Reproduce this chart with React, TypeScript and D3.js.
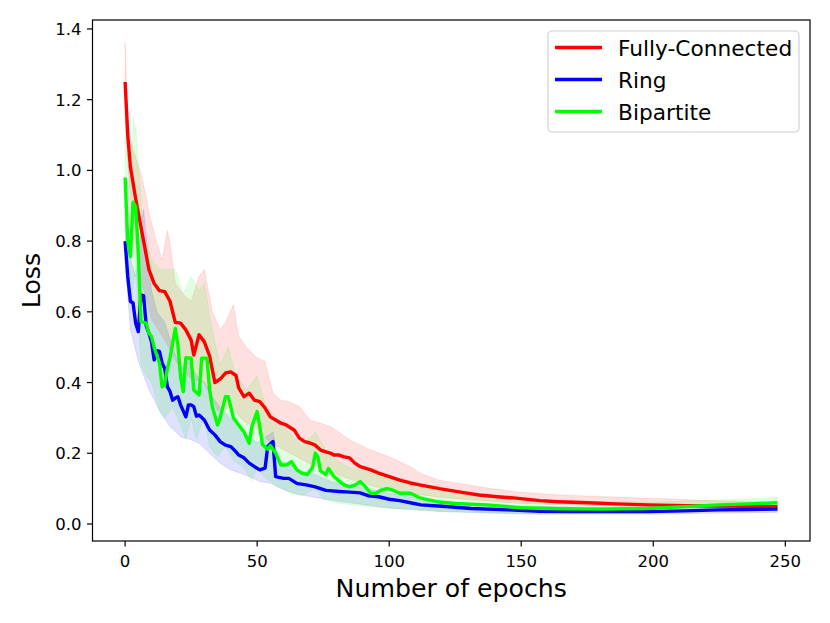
import * as d3 from "d3";

type Pt = [number, number];

// mean loss per epoch
const fcMean: Pt[] = [
  [0, 1.25], [1, 1.1], [2, 1.01], [4, 0.92], [6, 0.84], [8, 0.76], [9, 0.72], [11, 0.68],
  [13, 0.66], [15, 0.657], [17, 0.63], [19, 0.57], [21, 0.568], [23, 0.549], [25, 0.52],
  [26, 0.478], [28, 0.535], [30, 0.515], [32, 0.475], [34, 0.4], [36, 0.41], [38, 0.427],
  [40, 0.43], [42, 0.42], [43, 0.385], [45, 0.36], [47, 0.37], [49, 0.35], [51, 0.346],
  [53, 0.328], [55, 0.303], [57, 0.294], [59, 0.285], [61, 0.28], [62, 0.275], [64, 0.266],
  [66, 0.243], [68, 0.233], [70, 0.229], [72, 0.223], [74, 0.209], [76, 0.204], [78, 0.2],
  [79, 0.195], [81, 0.195], [83, 0.19], [85, 0.187], [87, 0.172], [89, 0.162], [93, 0.153],
  [96, 0.144], [100, 0.134], [104, 0.124], [108, 0.116], [112, 0.11], [119, 0.1], [127, 0.09],
  [134, 0.082], [141, 0.077], [148, 0.073], [157, 0.066], [164, 0.063], [175, 0.06],
  [186, 0.057], [198, 0.054], [212, 0.052], [225, 0.051], [236, 0.05], [247, 0.049],
];

const ringMean: Pt[] = [
  [0, 0.8], [1, 0.7], [2, 0.63], [3, 0.625], [4, 0.568], [5, 0.544], [6, 0.648], [7, 0.645],
  [8, 0.56], [9, 0.54], [10, 0.515], [11, 0.464], [12, 0.49], [13, 0.488], [14, 0.455],
  [15, 0.44], [16, 0.388], [17, 0.375], [18, 0.35], [19, 0.356], [20, 0.36], [21, 0.337],
  [22, 0.32], [23, 0.303], [24, 0.337], [25, 0.337], [26, 0.332], [27, 0.305], [28, 0.308],
  [30, 0.294], [32, 0.266], [34, 0.252], [36, 0.233], [38, 0.223], [40, 0.219], [42, 0.204],
  [43, 0.195], [45, 0.187], [47, 0.172], [49, 0.162], [51, 0.153], [53, 0.158], [54, 0.219],
  [56, 0.233], [57, 0.134], [60, 0.129], [62, 0.129], [65, 0.115], [69, 0.11], [72, 0.105],
  [76, 0.095], [81, 0.092], [85, 0.09], [89, 0.088], [92, 0.08], [96, 0.077], [100, 0.07],
  [104, 0.066], [108, 0.06], [112, 0.054], [120, 0.05], [131, 0.044], [145, 0.04],
  [157, 0.036], [170, 0.035], [185, 0.035], [198, 0.035], [212, 0.037], [225, 0.04],
  [236, 0.041], [247, 0.042],
];

const bipMean: Pt[] = [
  [0, 0.98], [1, 0.8], [2, 0.756], [3, 0.91], [4, 0.897], [5, 0.766], [6, 0.572], [8, 0.568],
  [9, 0.54], [10, 0.53], [11, 0.5], [13, 0.455], [14, 0.388], [15, 0.395], [16, 0.44],
  [17, 0.47], [19, 0.553], [20, 0.506], [21, 0.417], [22, 0.374], [23, 0.47], [25, 0.469],
  [26, 0.379], [28, 0.365], [29, 0.469], [31, 0.469], [32, 0.379], [33, 0.332], [35, 0.28],
  [36, 0.3], [37, 0.33], [38, 0.36], [39, 0.36], [40, 0.332], [41, 0.3], [43, 0.28],
  [45, 0.26], [47, 0.228], [48, 0.275], [50, 0.318], [51, 0.275], [52, 0.225], [54, 0.211],
  [55, 0.222], [57, 0.2], [59, 0.167], [61, 0.167], [63, 0.176], [65, 0.153], [67, 0.143],
  [69, 0.14], [71, 0.16], [72, 0.2], [73, 0.19], [74, 0.15], [76, 0.14], [77, 0.157],
  [79, 0.135], [81, 0.122], [83, 0.11], [85, 0.105], [87, 0.11], [89, 0.12], [91, 0.105],
  [93, 0.087], [95, 0.087], [97, 0.096], [99, 0.1], [101, 0.097], [104, 0.087], [108, 0.087],
  [112, 0.073], [118, 0.063], [125, 0.058], [137, 0.054], [150, 0.046], [164, 0.043],
  [180, 0.042], [198, 0.044], [212, 0.049], [225, 0.054], [236, 0.057], [247, 0.06],
];

// shaded spread (upper / lower edges)
const fcUpper: Pt[] = [
  [0, 1.36], [1, 1.13], [3, 1.06], [6, 0.99], [8, 0.925], [9, 0.88], [12, 0.795], [14, 0.746],
  [16, 0.83], [17, 0.795], [19, 0.68], [22, 0.65], [25, 0.63], [28, 0.7], [30, 0.72],
  [33, 0.6], [36, 0.55], [38, 0.57], [41, 0.62], [43, 0.53], [46, 0.5], [50, 0.47],
  [53, 0.46], [56, 0.37], [59, 0.35], [62, 0.346], [66, 0.332], [70, 0.294], [74, 0.285],
  [78, 0.275], [85, 0.238], [93, 0.209], [100, 0.19], [108, 0.162], [112, 0.143],
  [119, 0.124], [134, 0.105], [148, 0.091], [164, 0.082], [180, 0.078], [198, 0.073],
  [220, 0.067], [247, 0.06],
];
const fcLower: Pt[] = [
  [0, 1.14], [2, 0.92], [5, 0.72], [10, 0.58], [15, 0.52], [20, 0.45], [25, 0.41], [30, 0.4],
  [35, 0.32], [40, 0.33], [45, 0.29], [50, 0.27], [55, 0.23], [60, 0.21], [70, 0.17],
  [80, 0.14], [90, 0.115], [100, 0.095], [120, 0.075], [150, 0.058], [200, 0.047], [247, 0.042],
];

const ringUpper: Pt[] = [
  [0, 0.86], [2, 0.75], [4, 0.7], [7, 0.89], [8, 0.81], [10, 0.66], [12, 0.6], [15, 0.57],
  [18, 0.5], [21, 0.44], [24, 0.46], [27, 0.42], [30, 0.4], [33, 0.36], [36, 0.33],
  [40, 0.3], [45, 0.26], [50, 0.23], [54, 0.25], [56, 0.26], [58, 0.18], [62, 0.17],
  [67, 0.15], [72, 0.14], [78, 0.12], [85, 0.11], [95, 0.095], [105, 0.08], [120, 0.062],
  [150, 0.05], [200, 0.045], [247, 0.052],
];
const ringLower: Pt[] = [
  [0, 0.74], [2, 0.55], [5, 0.46], [9, 0.38], [13, 0.32], [17, 0.275], [21, 0.247],
  [25, 0.238], [28, 0.228], [32, 0.2], [36, 0.172], [40, 0.153], [44, 0.143], [47, 0.134],
  [51, 0.12], [55, 0.115], [59, 0.1], [65, 0.085], [72, 0.075], [80, 0.065], [90, 0.055],
  [100, 0.045], [120, 0.035], [150, 0.028], [200, 0.028], [247, 0.033],
];

const bipUpper: Pt[] = [
  [0, 1.1], [2, 0.95], [3, 1.15], [4, 1.12], [5, 1.02], [7, 0.82], [10, 0.75], [13, 0.72],
  [16, 0.72], [19, 0.72], [22, 0.65], [25, 0.7], [28, 0.66], [30, 0.68], [33, 0.55],
  [36, 0.45], [39, 0.5], [42, 0.42], [46, 0.38], [50, 0.42], [53, 0.34], [57, 0.3],
  [62, 0.26], [67, 0.22], [72, 0.26], [76, 0.21], [80, 0.18], [85, 0.16], [90, 0.15],
  [95, 0.14], [100, 0.13], [110, 0.11], [120, 0.09], [140, 0.075], [160, 0.065],
  [200, 0.062], [225, 0.068], [247, 0.075],
];
const bipLower: Pt[] = [
  [0, 0.88], [2, 0.62], [4, 0.72], [6, 0.45], [8, 0.42], [10, 0.4], [13, 0.32], [15, 0.3],
  [18, 0.33], [21, 0.28], [23, 0.24], [25, 0.3], [27, 0.24], [30, 0.3], [32, 0.22],
  [35, 0.19], [38, 0.22], [41, 0.18], [45, 0.16], [48, 0.12], [50, 0.16], [53, 0.13],
  [57, 0.11], [60, 0.1], [63, 0.085], [67, 0.08], [72, 0.1], [75, 0.07], [80, 0.06],
  [90, 0.05], [100, 0.045], [120, 0.035], [150, 0.03], [200, 0.032], [247, 0.045],
];

const seriesNames = ["Fully-Connected", "Ring", "Bipartite"];
const seriesColors = ["#ff0000", "#0000ff", "#00ff00"];
const xTicks = [0, 50, 100, 150, 200, 250];
const yTicks = [0, 0.2, 0.4, 0.6, 0.8, 1.0, 1.2, 1.4];

const W = 830;
const H = 623;
const left = 92.5;
const right = 810;
const top = 20;
const bottom = 541;
const font = "DejaVu Sans, sans-serif";

export default function App() {
  const x = d3.scaleLinear().domain([-12.35, 259.35]).range([left, right]);
  const y = d3.scaleLinear().domain([-0.0481, 1.4253]).range([bottom, top]);

  const line = d3
    .line<Pt>()
    .x((d) => x(d[0]))
    .y((d) => y(d[1]));

  const band = (up: Pt[], lo: Pt[]) => line([...up, ...lo.slice().reverse()]) + "Z";

  const means = [fcMean, ringMean, bipMean];
  const bands: [Pt[], Pt[]][] = [
    [fcUpper, fcLower],
    [ringUpper, ringLower],
    [bipUpper, bipLower],
  ];

  return (
    <svg
      width={W}
      height={H}
      style={{ position: "absolute", left: 0, top: 0, background: "#fff" }}
      fontFamily={font}
    >
      <defs>
        <clipPath id="plot">
          <rect x={left} y={top} width={right - left} height={bottom - top} />
        </clipPath>
      </defs>
      <g clipPath="url(#plot)">
        {bands.map(([up, lo], i) => (
          <path key={"b" + i} d={band(up, lo)} fill={seriesColors[i]} fillOpacity={0.12} stroke={seriesColors[i]} strokeOpacity={0.1} strokeWidth={1} />
        ))}
        {means.map((m, i) => (
          <path key={"l" + i} d={line(m) ?? ""} fill="none" stroke={seriesColors[i]} strokeWidth={3.4} strokeLinejoin="round" />
        ))}
      </g>

      <rect x={left} y={top} width={right - left} height={bottom - top} fill="none" stroke="#000" strokeWidth={1.2} />

      {xTicks.map((t) => (
        <g key={"x" + t} transform={`translate(${x(t)},${bottom})`}>
          <line y2={5.5} stroke="#000" strokeWidth={1.2} />
          <text y={26} textAnchor="middle" fontSize={16.5}>
            {t}
          </text>
        </g>
      ))}
      {yTicks.map((t) => (
        <g key={"y" + t} transform={`translate(${left},${y(t)})`}>
          <line x2={-5.5} stroke="#000" strokeWidth={1.2} />
          <text x={-11} y={6} textAnchor="end" fontSize={16.5}>
            {t.toFixed(1)}
          </text>
        </g>
      ))}

      <text x={(left + right) / 2} y={597} textAnchor="middle" fontSize={25.2}>
        Number of epochs
      </text>
      <text transform={`translate(40,${(top + bottom) / 2}) rotate(-90)`} textAnchor="middle" fontSize={25.2}>
        Loss
      </text>

      <g>
        <rect x={548} y={31} width={251} height={101} rx={4} fill="#fff" fillOpacity={0.8} stroke="#d0d0d0" strokeWidth={1.2} />
        {seriesNames.map((name, i) => (
          <g key={name} transform={`translate(0,${47.5 + i * 32})`}>
            <line x1={555} x2={602} stroke={seriesColors[i]} strokeWidth={3.4} />
            <text x={618} y={8} fontSize={21.7}>
              {name}
            </text>
          </g>
        ))}
      </g>
    </svg>
  );
}
